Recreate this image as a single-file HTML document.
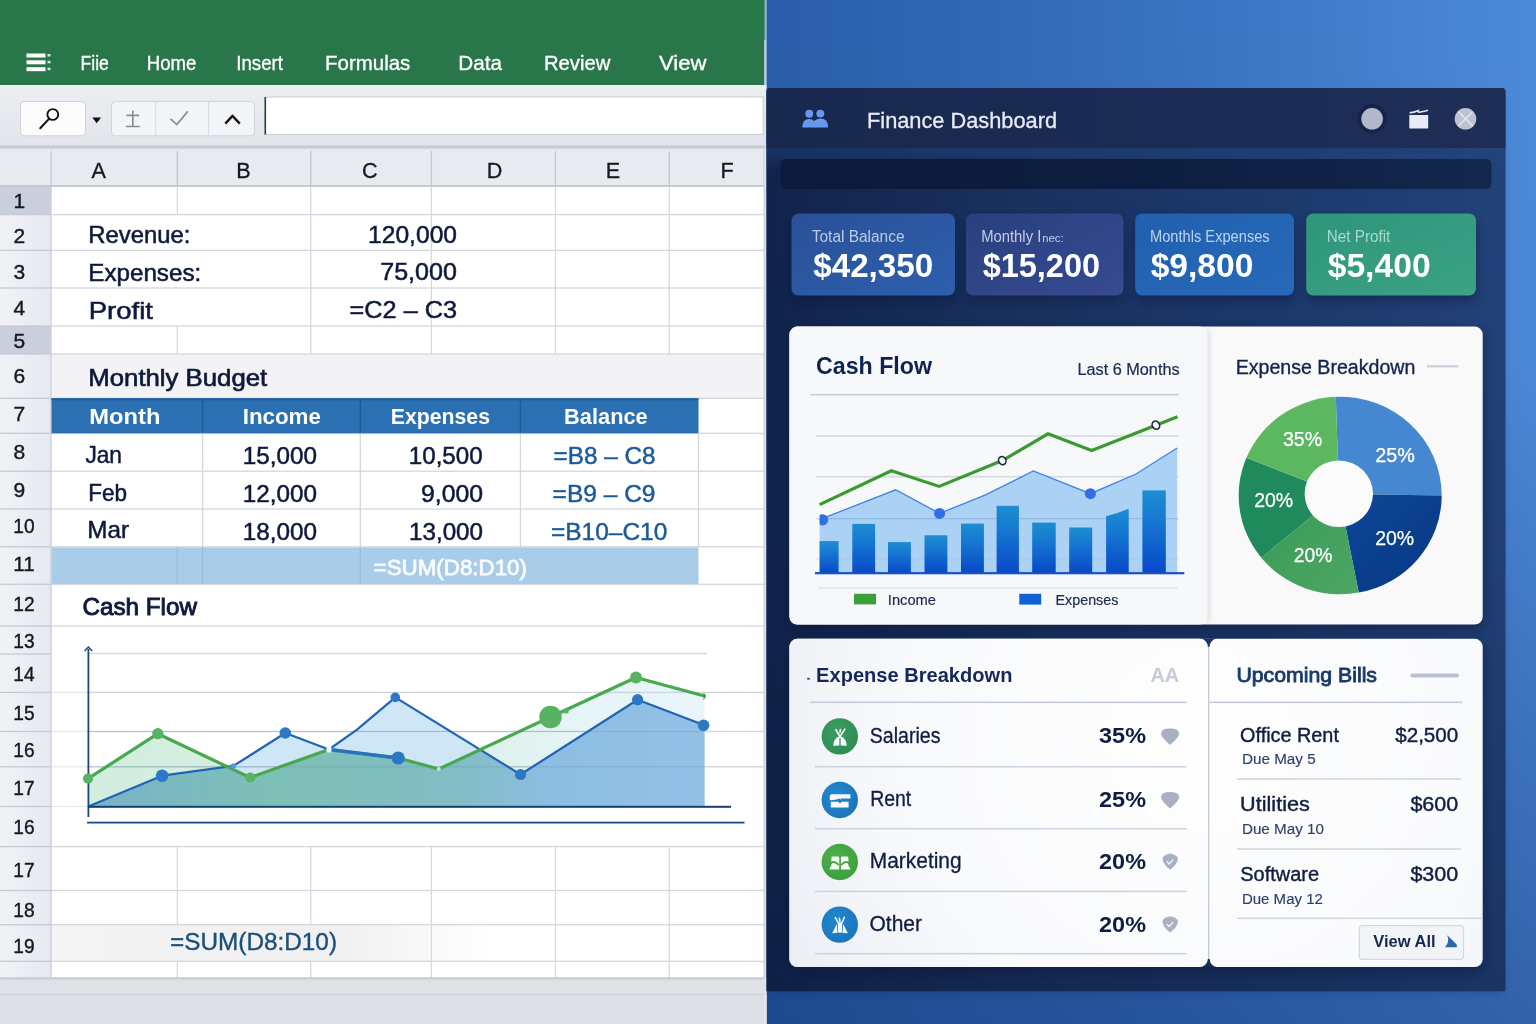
<!DOCTYPE html>
<html lang="en"><head><meta charset="utf-8"><title>Finance Dashboard</title>
<style>
html,body{margin:0;padding:0;background:#2a5da6;}
body{width:1536px;height:1024px;overflow:hidden;font-family:"Liberation Sans", Arial, sans-serif;}
svg{display:block;font-family:"Liberation Sans", Arial, sans-serif;}
text{white-space:pre;}
</style></head><body>
<svg width="1536" height="1024" viewBox="0 0 1536 1024">
<defs>
<linearGradient id="bgR" x1="0" y1="0" x2="1" y2="0"><stop offset="0" stop-color="#295da9"/><stop offset="0.55" stop-color="#3973c1"/><stop offset="1" stop-color="#4c8ad8"/></linearGradient>
<linearGradient id="bgV" x1="0" y1="0" x2="0" y2="1"><stop offset="0" stop-color="#0e2d6b" stop-opacity="0"/><stop offset="0.35" stop-color="#0e2d6b" stop-opacity="0.02"/><stop offset="1" stop-color="#0e2d6b" stop-opacity="0.42"/></linearGradient>
<linearGradient id="win" x1="0" y1="0" x2="1" y2="0"><stop offset="0" stop-color="#11244c"/><stop offset="0.35" stop-color="#19325f"/><stop offset="0.7" stop-color="#1d3a6e"/><stop offset="1" stop-color="#23437b"/></linearGradient>
<linearGradient id="winV" x1="0" y1="0" x2="0" y2="1"><stop offset="0" stop-color="#0a1838" stop-opacity="0"/><stop offset="0.5" stop-color="#0a1838" stop-opacity="0.08"/><stop offset="1" stop-color="#0a1838" stop-opacity="0.35"/></linearGradient>
<radialGradient id="cardR" gradientUnits="userSpaceOnUse" cx="1200" cy="740" r="520"><stop offset="0" stop-color="#fefefe"/><stop offset="0.55" stop-color="#f9fafc"/><stop offset="0.8" stop-color="#f0f2f7"/><stop offset="1" stop-color="#e4e8f1"/></radialGradient>
<linearGradient id="c1" x1="0" y1="0" x2="1" y2="1"><stop offset="0" stop-color="#2a5198"/><stop offset="1" stop-color="#2d5fad"/></linearGradient>
<linearGradient id="c2" x1="0" y1="0" x2="1" y2="1"><stop offset="0" stop-color="#29407f"/><stop offset="1" stop-color="#364b90"/></linearGradient>
<linearGradient id="c3" x1="0" y1="0" x2="1" y2="1"><stop offset="0" stop-color="#2060ae"/><stop offset="1" stop-color="#2869ba"/></linearGradient>
<linearGradient id="c4" x1="0" y1="0" x2="1" y2="1"><stop offset="0" stop-color="#2f957b"/><stop offset="1" stop-color="#3ba384"/></linearGradient>
<linearGradient id="bar" x1="0" y1="0" x2="0" y2="1"><stop offset="0" stop-color="#1d8dd0"/><stop offset="0.35" stop-color="#1679d2"/><stop offset="1" stop-color="#0848c8"/></linearGradient>
<linearGradient id="minfill" x1="88" y1="0" x2="705" y2="0" gradientUnits="userSpaceOnUse"><stop offset="0" stop-color="#79b3c9"/><stop offset="0.3" stop-color="#7dc0b6"/><stop offset="0.6" stop-color="#82bdc4"/><stop offset="0.75" stop-color="#8dbde2"/><stop offset="1" stop-color="#93c0e6"/></linearGradient>
<linearGradient id="whiteV" x1="0" y1="0" x2="1" y2="1"><stop offset="0" stop-color="#fbfbfc"/><stop offset="1" stop-color="#f3f4f8"/></linearGradient>
<linearGradient id="rowhdr" x1="0" y1="0" x2="1" y2="0"><stop offset="0" stop-color="#f0f2f6"/><stop offset="1" stop-color="#e6e9f0"/></linearGradient>
<radialGradient id="ig" cx="0.4" cy="0.35" r="0.8"><stop offset="0" stop-color="#399c60"/><stop offset="1" stop-color="#2b8c53"/></radialGradient>
<radialGradient id="ib" cx="0.4" cy="0.35" r="0.8"><stop offset="0" stop-color="#2288cf"/><stop offset="1" stop-color="#1a72b8"/></radialGradient>
<radialGradient id="ig2" cx="0.4" cy="0.35" r="0.8"><stop offset="0" stop-color="#4db049"/><stop offset="1" stop-color="#3a9c3c"/></radialGradient>
<filter id="sh" x="-20%" y="-20%" width="140%" height="150%"><feGaussianBlur stdDeviation="5"/></filter>
<filter id="sh2" x="-20%" y="-20%" width="140%" height="150%"><feGaussianBlur stdDeviation="2"/></filter>
</defs>
<rect x="0" y="0" width="1536" height="1024" fill="#ffffff" />
<rect x="765" y="0" width="771" height="1024" fill="url(#bgR)" />
<rect x="765" y="0" width="771" height="1024" fill="url(#bgV)" />
<rect x="0" y="0" width="764.6" height="85" fill="#29764b" />
<rect x="764.4" y="0" width="2.2" height="88" fill="#bccde6" />
<rect x="0" y="0" width="765.5" height="40" fill="#2a7a4d" opacity="0.6"/>
<rect x="26.5" y="53.5" width="19.0" height="4.0" fill="#ffffff" />
<rect x="47.5" y="54.0" width="3.0" height="2.5" fill="#cfe6d8" />
<rect x="26.5" y="60.3" width="19.0" height="4.0" fill="#ffffff" />
<rect x="47.5" y="60.8" width="3.0" height="2.5" fill="#cfe6d8" />
<rect x="26.5" y="67.2" width="19.0" height="4.0" fill="#ffffff" />
<rect x="47.5" y="67.7" width="3.0" height="2.5" fill="#cfe6d8" />
<text x="80.5" y="70" font-size="21" font-weight="normal" fill="#ffffff" textLength="28.3" lengthAdjust="spacingAndGlyphs" stroke="#ffffff" stroke-width="0.35">Fiie</text>
<text x="146.8" y="70" font-size="21" font-weight="normal" fill="#ffffff" textLength="49.5" lengthAdjust="spacingAndGlyphs" stroke="#ffffff" stroke-width="0.35">Home</text>
<text x="236.3" y="70" font-size="21" font-weight="normal" fill="#ffffff" textLength="46.7" lengthAdjust="spacingAndGlyphs" stroke="#ffffff" stroke-width="0.35">Insert</text>
<text x="325" y="70" font-size="21" font-weight="normal" fill="#ffffff" textLength="85.3" lengthAdjust="spacingAndGlyphs" stroke="#ffffff" stroke-width="0.35">Formulas</text>
<text x="458.3" y="70" font-size="21" font-weight="normal" fill="#ffffff" textLength="43.7" lengthAdjust="spacingAndGlyphs" stroke="#ffffff" stroke-width="0.35">Data</text>
<text x="544" y="70" font-size="21" font-weight="normal" fill="#ffffff" textLength="66.3" lengthAdjust="spacingAndGlyphs" stroke="#ffffff" stroke-width="0.35">Review</text>
<text x="659" y="70" font-size="21" font-weight="normal" fill="#ffffff" textLength="47.5" lengthAdjust="spacingAndGlyphs" stroke="#ffffff" stroke-width="0.35">View</text>
<defs><linearGradient id="tbar" x1="0" y1="0" x2="0" y2="1"><stop offset="0" stop-color="#eceef2"/><stop offset="1" stop-color="#e1e4ea"/></linearGradient></defs>
<rect x="0" y="85" width="766.5" height="65" fill="url(#tbar)" />
<rect x="20.5" y="101.5" width="65.0" height="34.3" fill="#fcfcfd" rx="4" stroke="#cfd3da" stroke-width="1"/>
<circle cx="52.8" cy="114.5" r="5.4" fill="none" stroke="#111" stroke-width="1.9"/><path d="M49.2 118.6 L40.2 128.2" stroke="#111" stroke-width="2" stroke-linecap="round"/>
<path d="M92.3 117.6 h8.8 l-4.4 5.6z" fill="#111"/>
<rect x="111.5" y="101.5" width="143.0" height="34.3" fill="#f3f4f7" rx="4" stroke="#cfd3da" stroke-width="1"/>
<rect x="155.2" y="102" width="1" height="33.5" fill="#d5d8de"/>
<rect x="208.1" y="102" width="1" height="33.5" fill="#d5d8de"/>
<path d="M132.8 110.4 V126.3 M126.4 115.4 H139.2 M125.8 126.5 H139.8" stroke="#8a8d92" stroke-width="1.7" fill="none"/>
<path d="M170.5 118.8 L176.8 124.6 L187.8 111.4" stroke="#8a8d92" stroke-width="1.7" fill="none"/>
<path d="M225.3 123.6 L232.5 115.9 L239.8 123.6" stroke="#111" stroke-width="2.3" fill="none" stroke-linejoin="miter"/>
<rect x="265" y="97" width="498.2" height="37.5" fill="#ffffff" stroke="#c6cad1" stroke-width="1"/>
<rect x="264.5" y="97" width="1.6" height="37.5" fill="#1f4a35"/>
<rect x="0" y="145.5" width="765" height="3.0" fill="#c5c9d1" />
<rect x="0" y="148.5" width="765" height="2.0" fill="#dfe2e8" />
<rect x="0" y="150.5" width="765" height="35.5" fill="#e7eaef" />
<rect x="0" y="185" width="765" height="2" fill="#c3c8d1" />
<rect x="0" y="187" width="51" height="791" fill="url(#rowhdr)" />
<rect x="0" y="187" width="51" height="27.5" fill="#c9cfdc" />
<rect x="0" y="326" width="51" height="28" fill="#c9cfdc" />
<rect x="51.5" y="354" width="712.5" height="44.3" fill="#f3f3f5" />
<defs><linearGradient id="r19" x1="0" y1="0" x2="1" y2="0"><stop offset="0" stop-color="#f4f4f5"/><stop offset="0.4" stop-color="#f0f0f1"/><stop offset="0.62" stop-color="#ffffff"/><stop offset="1" stop-color="#ffffff"/></linearGradient><linearGradient id="gfill" x1="88" y1="0" x2="705" y2="0" gradientUnits="userSpaceOnUse"><stop offset="0" stop-color="#5fbf8a" stop-opacity="0.28"/><stop offset="0.55" stop-color="#6cc49a" stop-opacity="0.26"/><stop offset="0.8" stop-color="#9ad4e0" stop-opacity="0.25"/><stop offset="1" stop-color="#a9d8ee" stop-opacity="0.25"/></linearGradient></defs>
<rect x="51.5" y="924.7" width="712.5" height="36.6" fill="url(#r19)" />
<rect x="50.35" y="151" width="1.3" height="35" fill="#c3c8d1"/>
<rect x="176.65" y="151" width="1.3" height="35" fill="#c3c8d1"/>
<rect x="310.15" y="151" width="1.3" height="35" fill="#c3c8d1"/>
<rect x="430.75" y="151" width="1.3" height="35" fill="#c3c8d1"/>
<rect x="554.75" y="151" width="1.3" height="35" fill="#c3c8d1"/>
<rect x="668.65" y="151" width="1.3" height="35" fill="#c3c8d1"/>
<rect x="763.35" y="151" width="1.3" height="35" fill="#c3c8d1"/>
<rect x="176.7" y="187" width="1.2" height="27.6" fill="#d3d7df"/>
<rect x="310.2" y="187" width="1.2" height="27.6" fill="#d3d7df"/>
<rect x="430.8" y="187" width="1.2" height="27.6" fill="#d3d7df"/>
<rect x="554.8" y="187" width="1.2" height="27.6" fill="#d3d7df"/>
<rect x="668.7" y="187" width="1.2" height="27.6" fill="#d3d7df"/>
<rect x="310.2" y="214.6" width="1.2" height="111.4" fill="#d3d7df"/>
<rect x="430.8" y="214.6" width="1.2" height="111.4" fill="#d3d7df"/>
<rect x="554.8" y="214.6" width="1.2" height="111.4" fill="#d3d7df"/>
<rect x="668.7" y="214.6" width="1.2" height="111.4" fill="#d3d7df"/>
<rect x="176.7" y="326" width="1.2" height="28" fill="#d3d7df"/>
<rect x="310.2" y="326" width="1.2" height="28" fill="#d3d7df"/>
<rect x="430.8" y="326" width="1.2" height="28" fill="#d3d7df"/>
<rect x="554.8" y="326" width="1.2" height="28" fill="#d3d7df"/>
<rect x="668.7" y="326" width="1.2" height="28" fill="#d3d7df"/>
<rect x="176.7" y="846.6" width="1.2" height="78.1" fill="#d3d7df"/>
<rect x="310.2" y="846.6" width="1.2" height="78.1" fill="#d3d7df"/>
<rect x="430.8" y="846.6" width="1.2" height="78.1" fill="#d3d7df"/>
<rect x="554.8" y="846.6" width="1.2" height="78.1" fill="#d3d7df"/>
<rect x="668.7" y="846.6" width="1.2" height="78.1" fill="#d3d7df"/>
<rect x="430.8" y="924.7" width="1.2" height="36.6" fill="#d3d7df"/>
<rect x="554.8" y="924.7" width="1.2" height="36.6" fill="#d3d7df"/>
<rect x="668.7" y="924.7" width="1.2" height="36.6" fill="#d3d7df"/>
<rect x="176.7" y="961.3" width="1.2" height="16.7" fill="#d3d7df"/>
<rect x="310.2" y="961.3" width="1.2" height="16.7" fill="#d3d7df"/>
<rect x="430.8" y="961.3" width="1.2" height="16.7" fill="#d3d7df"/>
<rect x="554.8" y="961.3" width="1.2" height="16.7" fill="#d3d7df"/>
<rect x="668.7" y="961.3" width="1.2" height="16.7" fill="#d3d7df"/>
<rect x="50.35" y="187" width="1.3" height="791" fill="#c9cdd6"/>
<rect x="0" y="213.95" width="51" height="1.3" fill="#c6cad3"/>
<rect x="51" y="213.95" width="713" height="1.3" fill="#d3d7df"/>
<rect x="0" y="249.65" width="51" height="1.3" fill="#c6cad3"/>
<rect x="51" y="249.65" width="713" height="1.3" fill="#d3d7df"/>
<rect x="0" y="287.35" width="51" height="1.3" fill="#c6cad3"/>
<rect x="51" y="287.35" width="713" height="1.3" fill="#d3d7df"/>
<rect x="0" y="325.35" width="51" height="1.3" fill="#c6cad3"/>
<rect x="51" y="325.35" width="713" height="1.3" fill="#d3d7df"/>
<rect x="0" y="353.35" width="51" height="1.3" fill="#c6cad3"/>
<rect x="51" y="353.35" width="713" height="1.3" fill="#d3d7df"/>
<rect x="0" y="397.65" width="51" height="1.3" fill="#c6cad3"/>
<rect x="51" y="397.65" width="713" height="1.3" fill="#d3d7df"/>
<rect x="0" y="432.65" width="51" height="1.3" fill="#c6cad3"/>
<rect x="51" y="432.65" width="713" height="1.3" fill="#d3d7df"/>
<rect x="0" y="470.55" width="51" height="1.3" fill="#c6cad3"/>
<rect x="51" y="470.55" width="713" height="1.3" fill="#d3d7df"/>
<rect x="0" y="508.35" width="51" height="1.3" fill="#c6cad3"/>
<rect x="51" y="508.35" width="713" height="1.3" fill="#d3d7df"/>
<rect x="0" y="546.15" width="51" height="1.3" fill="#c6cad3"/>
<rect x="51" y="546.15" width="713" height="1.3" fill="#d3d7df"/>
<rect x="0" y="583.65" width="51" height="1.3" fill="#c6cad3"/>
<rect x="51" y="583.65" width="713" height="1.3" fill="#d3d7df"/>
<rect x="0" y="625.35" width="51" height="1.3" fill="#c6cad3"/>
<rect x="51" y="625.35" width="713" height="1.3" fill="#d3d7df"/>
<rect x="0" y="653.35" width="51" height="1.3" fill="#c6cad3"/>
<rect x="51" y="653.35" width="713" height="1.3" fill="#d3d7df"/>
<rect x="0" y="691.75" width="51" height="1.3" fill="#c6cad3"/>
<rect x="51" y="691.75" width="713" height="1.3" fill="#d3d7df"/>
<rect x="0" y="730.85" width="51" height="1.3" fill="#c6cad3"/>
<rect x="51" y="730.85" width="713" height="1.3" fill="#d3d7df"/>
<rect x="0" y="766.15" width="51" height="1.3" fill="#c6cad3"/>
<rect x="51" y="766.15" width="713" height="1.3" fill="#d3d7df"/>
<rect x="0" y="805.85" width="51" height="1.3" fill="#c6cad3"/>
<rect x="51" y="805.85" width="713" height="1.3" fill="#d3d7df"/>
<rect x="0" y="845.95" width="51" height="1.3" fill="#c6cad3"/>
<rect x="51" y="845.95" width="713" height="1.3" fill="#d3d7df"/>
<rect x="0" y="889.85" width="51" height="1.3" fill="#c6cad3"/>
<rect x="51" y="889.85" width="713" height="1.3" fill="#d3d7df"/>
<rect x="0" y="924.05" width="51" height="1.3" fill="#c6cad3"/>
<rect x="51" y="924.05" width="713" height="1.3" fill="#d3d7df"/>
<rect x="0" y="960.65" width="51" height="1.3" fill="#c6cad3"/>
<rect x="51" y="960.65" width="713" height="1.3" fill="#d3d7df"/>
<text x="13.6" y="208.3" font-size="21" font-weight="normal" fill="#15181f" stroke="#15181f" stroke-width="0.4">1</text>
<text x="13.6" y="242.5" font-size="21" font-weight="normal" fill="#15181f" stroke="#15181f" stroke-width="0.4">2</text>
<text x="13.6" y="278.6" font-size="21" font-weight="normal" fill="#15181f" stroke="#15181f" stroke-width="0.4">3</text>
<text x="13.6" y="314.8" font-size="21" font-weight="normal" fill="#15181f" stroke="#15181f" stroke-width="0.4">4</text>
<text x="13.6" y="347.6" font-size="21" font-weight="normal" fill="#15181f" stroke="#15181f" stroke-width="0.4">5</text>
<text x="13.6" y="382.6" font-size="21" font-weight="normal" fill="#15181f" stroke="#15181f" stroke-width="0.4">6</text>
<text x="13.6" y="421" font-size="21" font-weight="normal" fill="#15181f" stroke="#15181f" stroke-width="0.4">7</text>
<text x="13.6" y="458.8" font-size="21" font-weight="normal" fill="#15181f" stroke="#15181f" stroke-width="0.4">8</text>
<text x="13.6" y="497.2" font-size="21" font-weight="normal" fill="#15181f" stroke="#15181f" stroke-width="0.4">9</text>
<text x="13.3" y="533.4" font-size="21" font-weight="normal" fill="#15181f" textLength="21.3" lengthAdjust="spacingAndGlyphs" stroke="#15181f" stroke-width="0.4">10</text>
<text x="13.3" y="571.4" font-size="21" font-weight="normal" fill="#15181f" textLength="21.3" lengthAdjust="spacingAndGlyphs" stroke="#15181f" stroke-width="0.4">11</text>
<text x="13.3" y="610.5" font-size="21" font-weight="normal" fill="#15181f" textLength="21.3" lengthAdjust="spacingAndGlyphs" stroke="#15181f" stroke-width="0.4">12</text>
<text x="13.3" y="648.2" font-size="21" font-weight="normal" fill="#15181f" textLength="21.3" lengthAdjust="spacingAndGlyphs" stroke="#15181f" stroke-width="0.4">13</text>
<text x="13.3" y="681.4" font-size="21" font-weight="normal" fill="#15181f" textLength="21.3" lengthAdjust="spacingAndGlyphs" stroke="#15181f" stroke-width="0.4">14</text>
<text x="13.3" y="719.5" font-size="21" font-weight="normal" fill="#15181f" textLength="21.3" lengthAdjust="spacingAndGlyphs" stroke="#15181f" stroke-width="0.4">15</text>
<text x="13.3" y="757.1" font-size="21" font-weight="normal" fill="#15181f" textLength="21.3" lengthAdjust="spacingAndGlyphs" stroke="#15181f" stroke-width="0.4">16</text>
<text x="13.3" y="794.8" font-size="21" font-weight="normal" fill="#15181f" textLength="21.3" lengthAdjust="spacingAndGlyphs" stroke="#15181f" stroke-width="0.4">17</text>
<text x="13.3" y="833.9" font-size="21" font-weight="normal" fill="#15181f" textLength="21.3" lengthAdjust="spacingAndGlyphs" stroke="#15181f" stroke-width="0.4">16</text>
<text x="13.3" y="876.8" font-size="21" font-weight="normal" fill="#15181f" textLength="21.3" lengthAdjust="spacingAndGlyphs" stroke="#15181f" stroke-width="0.4">17</text>
<text x="13.3" y="916.5" font-size="21" font-weight="normal" fill="#15181f" textLength="21.3" lengthAdjust="spacingAndGlyphs" stroke="#15181f" stroke-width="0.4">18</text>
<text x="13.3" y="952.6" font-size="21" font-weight="normal" fill="#15181f" textLength="21.3" lengthAdjust="spacingAndGlyphs" stroke="#15181f" stroke-width="0.4">19</text>
<text x="98.6" y="178" font-size="21.6" font-weight="normal" fill="#15181f" text-anchor="middle" stroke="#15181f" stroke-width="0.3">A</text>
<text x="243.5" y="178" font-size="21.6" font-weight="normal" fill="#15181f" text-anchor="middle" stroke="#15181f" stroke-width="0.3">B</text>
<text x="369.7" y="178" font-size="21.6" font-weight="normal" fill="#15181f" text-anchor="middle" stroke="#15181f" stroke-width="0.3">C</text>
<text x="494.5" y="178" font-size="21.6" font-weight="normal" fill="#15181f" text-anchor="middle" stroke="#15181f" stroke-width="0.3">D</text>
<text x="612.9" y="178" font-size="21.6" font-weight="normal" fill="#15181f" text-anchor="middle" stroke="#15181f" stroke-width="0.3">E</text>
<text x="727" y="178" font-size="21.6" font-weight="normal" fill="#15181f" text-anchor="middle" stroke="#15181f" stroke-width="0.3">F</text>
<text x="88.3" y="242.9" font-size="24.5" font-weight="normal" fill="#0e1a3c" textLength="102.1" lengthAdjust="spacingAndGlyphs" stroke="#0e1a3c" stroke-width="0.55">Revenue:</text>
<text x="88.3" y="281.2" font-size="24.5" font-weight="normal" fill="#0e1a3c" textLength="112.9" lengthAdjust="spacingAndGlyphs" stroke="#0e1a3c" stroke-width="0.55">Expenses:</text>
<text x="88.7" y="318.7" font-size="24.5" font-weight="normal" fill="#0e1a3c" textLength="64.2" lengthAdjust="spacingAndGlyphs" stroke="#0e1a3c" stroke-width="0.55">Profit</text>
<text x="368.1" y="242.6" font-size="23.4" font-weight="normal" fill="#0e1a3c" textLength="88.9" lengthAdjust="spacingAndGlyphs" stroke="#0e1a3c" stroke-width="0.5">120,000</text>
<text x="380.2" y="280.3" font-size="23.4" font-weight="normal" fill="#0e1a3c" textLength="76.8" lengthAdjust="spacingAndGlyphs" stroke="#0e1a3c" stroke-width="0.5">75,000</text>
<text x="349.6" y="318.2" font-size="23.4" font-weight="normal" fill="#0e1a3c" textLength="107.4" lengthAdjust="spacingAndGlyphs" stroke="#0e1a3c" stroke-width="0.5">=C2 – C3</text>
<text x="88.3" y="385.9" font-size="23.4" font-weight="normal" fill="#0e1a3c" textLength="178.9" lengthAdjust="spacingAndGlyphs" stroke="#0e1a3c" stroke-width="0.65">Monthly Budget</text>
<rect x="51.5" y="398.3" width="647.0" height="35.0" fill="#2a70b2" />
<rect x="51.5" y="398.3" width="647" height="2" fill="#1d5d9c"/>
<rect x="201.95" y="398.3" width="1.3" height="35.0" fill="#1c5b98"/>
<rect x="359.65" y="398.3" width="1.3" height="35.0" fill="#1c5b98"/>
<rect x="519.75" y="398.3" width="1.3" height="35.0" fill="#1c5b98"/>
<rect x="201.95" y="433.3" width="1.3" height="113.5" fill="#d3d7df"/>
<rect x="359.65" y="433.3" width="1.3" height="113.5" fill="#d3d7df"/>
<rect x="519.75" y="433.3" width="1.3" height="113.5" fill="#d3d7df"/>
<rect x="697.85" y="433.3" width="1.3" height="113.5" fill="#d3d7df"/>
<text x="89.3" y="424.4" font-size="22.3" font-weight="bold" fill="#ffffff" textLength="71.2" lengthAdjust="spacingAndGlyphs">Month</text>
<text x="242.7" y="424.4" font-size="22.3" font-weight="bold" fill="#ffffff" textLength="78.2" lengthAdjust="spacingAndGlyphs">Income</text>
<text x="390.8" y="424.4" font-size="22.3" font-weight="bold" fill="#ffffff" textLength="99.2" lengthAdjust="spacingAndGlyphs">Expenses</text>
<text x="564.1" y="424.4" font-size="22.3" font-weight="bold" fill="#ffffff" textLength="83.6" lengthAdjust="spacingAndGlyphs">Balance</text>
<text x="85.4" y="463" font-size="23.6" font-weight="normal" fill="#0e1a3c" textLength="36.6" lengthAdjust="spacingAndGlyphs" stroke="#0e1a3c" stroke-width="0.5">Jan</text>
<text x="88.3" y="500.6" font-size="23.6" font-weight="normal" fill="#0e1a3c" textLength="38.7" lengthAdjust="spacingAndGlyphs" stroke="#0e1a3c" stroke-width="0.5">Feb</text>
<text x="87.3" y="538" font-size="23.6" font-weight="normal" fill="#0e1a3c" textLength="41.7" lengthAdjust="spacingAndGlyphs" stroke="#0e1a3c" stroke-width="0.5">Mar</text>
<text x="242.7" y="464.4" font-size="23.6" font-weight="normal" fill="#0e1a3c" textLength="74.3" lengthAdjust="spacingAndGlyphs" stroke="#0e1a3c" stroke-width="0.5">15,000</text>
<text x="242.7" y="502" font-size="23.6" font-weight="normal" fill="#0e1a3c" textLength="74.3" lengthAdjust="spacingAndGlyphs" stroke="#0e1a3c" stroke-width="0.5">12,000</text>
<text x="242.7" y="539.8" font-size="23.6" font-weight="normal" fill="#0e1a3c" textLength="74.3" lengthAdjust="spacingAndGlyphs" stroke="#0e1a3c" stroke-width="0.5">18,000</text>
<text x="408.8" y="464.4" font-size="23.6" font-weight="normal" fill="#0e1a3c" textLength="73.8" lengthAdjust="spacingAndGlyphs" stroke="#0e1a3c" stroke-width="0.5">10,500</text>
<text x="421" y="502" font-size="23.6" font-weight="normal" fill="#0e1a3c" textLength="62" lengthAdjust="spacingAndGlyphs" stroke="#0e1a3c" stroke-width="0.5">9,000</text>
<text x="409" y="539.8" font-size="23.6" font-weight="normal" fill="#0e1a3c" textLength="74" lengthAdjust="spacingAndGlyphs" stroke="#0e1a3c" stroke-width="0.5">13,000</text>
<text x="553.6" y="464.2" font-size="23.4" font-weight="normal" fill="#1c5a9a" textLength="101.9" lengthAdjust="spacingAndGlyphs" stroke="#1c5a9a" stroke-width="0.45">=B8 – C8</text>
<text x="552.6" y="502" font-size="23.4" font-weight="normal" fill="#1c5a9a" textLength="102.9" lengthAdjust="spacingAndGlyphs" stroke="#1c5a9a" stroke-width="0.45">=B9 – C9</text>
<text x="551" y="540" font-size="23.4" font-weight="normal" fill="#1c5a9a" textLength="116.3" lengthAdjust="spacingAndGlyphs" stroke="#1c5a9a" stroke-width="0.45">=B10–C10</text>
<rect x="51.5" y="547.4" width="647.0" height="36.6" fill="#a9cde9" />
<rect x="176.7" y="547.4" width="1.2" height="36.6" fill="#97bcd9"/>
<rect x="202.0" y="547.4" width="1.2" height="36.6" fill="#97bcd9"/>
<rect x="359.7" y="547.4" width="1.2" height="36.6" fill="#97bcd9"/>
<text x="373.6" y="575" font-size="22.3" font-weight="normal" fill="#f8fbfe" textLength="153.4" lengthAdjust="spacingAndGlyphs" stroke="#f8fbfe" stroke-width="0.8">=SUM(D8:D10)</text>
<text x="82.4" y="615" font-size="24.5" font-weight="normal" fill="#0e1a3c" textLength="114.5" lengthAdjust="spacingAndGlyphs" stroke="#0e1a3c" stroke-width="0.95">Cash Flow</text>
<text x="170" y="950" font-size="23" font-weight="normal" fill="#1b4f7c" textLength="167" lengthAdjust="spacingAndGlyphs" stroke="#1b4f7c" stroke-width="0.35">=SUM(D8:D10)</text>
<rect x="52" y="627" width="711.5" height="218.8" fill="#ffffff" />
<rect x="88" y="652.8" width="619" height="1.4" fill="#d2d5de"/>
<rect x="88" y="691.7" width="675.5" height="1.4" fill="#d2d5de"/>
<rect x="88" y="730.8" width="675.5" height="1.4" fill="#d2d5de"/>
<rect x="88" y="766.1" width="675.5" height="1.4" fill="#d2d5de"/>
<rect x="52" y="691.8" width="36" height="1.2" fill="#e3e6ec"/>
<rect x="52" y="730.9" width="36" height="1.2" fill="#e3e6ec"/>
<rect x="52" y="766.2" width="36" height="1.2" fill="#e3e6ec"/>
<rect x="52" y="805.9" width="36" height="1.2" fill="#e3e6ec"/>
<polygon points="88,778.6 157.8,733.7 250,777.5 329,749.5 398.2,758 438.8,769 550.5,717 636,677.5 704.5,696 704.5,806.5 88,806.5" fill="url(#gfill)"/>
<polygon points="88.3,806.5 162.1,775.7 233.4,765.9 285.3,733 328.9,749.5 357,729.6 395.3,697.4 520.5,774.5 637.6,699.7 704.5,725.3 704.5,806.5 88,806.5" fill="#7ab9e8" opacity="0.36"/>
<polygon points="88.3,806.5 88.5,806.4 89.0,806.2 89.5,806.0 90.0,805.8 90.5,805.6 91.0,805.4 91.5,805.2 92.0,805.0 92.5,804.7 93.0,804.5 93.5,804.3 94.0,804.1 94.5,803.9 95.0,803.7 95.5,803.5 96.0,803.3 96.5,803.1 97.0,802.9 97.5,802.7 98.0,802.5 98.5,802.2 99.0,802.0 99.5,801.8 100.0,801.6 100.5,801.4 101.0,801.2 101.5,801.0 102.0,800.8 102.5,800.6 103.0,800.4 103.5,800.2 104.0,799.9 104.5,799.7 105.0,799.5 105.5,799.3 106.0,799.1 106.5,798.9 107.0,798.7 107.5,798.5 108.0,798.3 108.5,798.1 109.0,797.9 109.5,797.7 110.0,797.4 110.5,797.2 111.0,797.0 111.5,796.8 112.0,796.6 112.5,796.4 113.0,796.2 113.5,796.0 114.0,795.8 114.5,795.6 115.0,795.4 115.5,795.1 116.0,794.9 116.5,794.7 117.0,794.5 117.5,794.3 118.0,794.1 118.5,793.9 119.0,793.7 119.5,793.5 120.0,793.3 120.5,793.1 121.0,792.9 121.5,792.6 122.0,792.4 122.5,792.2 123.0,792.0 123.5,791.8 124.0,791.6 124.5,791.4 125.0,791.2 125.5,791.0 126.0,790.8 126.5,790.6 127.0,790.3 127.5,790.1 128.0,789.9 128.5,789.7 129.0,789.5 129.5,789.3 130.0,789.1 130.5,788.9 131.0,788.7 131.5,788.5 132.0,788.3 132.5,788.1 133.0,787.8 133.5,787.6 134.0,787.4 134.5,787.2 135.0,787.0 135.5,786.8 136.0,786.6 136.5,786.4 137.0,786.2 137.5,786.0 138.0,785.8 138.5,785.5 139.0,785.3 139.5,785.1 140.0,784.9 140.5,784.7 141.0,784.5 141.5,784.3 142.0,784.1 142.5,783.9 143.0,783.7 143.5,783.5 144.0,783.3 144.5,783.0 145.0,782.8 145.5,782.6 146.0,782.4 146.5,782.2 147.0,782.0 147.5,781.8 148.0,781.6 148.5,781.4 149.0,781.2 149.5,781.0 150.0,780.7 150.5,780.5 151.0,780.3 151.5,780.1 152.0,779.9 152.5,779.7 153.0,779.5 153.5,779.3 154.0,779.1 154.5,778.9 155.0,778.7 155.5,778.5 156.0,778.2 156.5,778.0 157.0,777.8 157.5,777.6 157.8,777.5 158.0,777.4 158.5,777.2 159.0,777.0 159.5,776.8 160.0,776.6 160.5,776.4 161.0,776.2 161.5,776.0 162.0,775.7 162.1,775.7 162.5,775.6 163.0,775.6 163.5,775.5 164.0,775.4 164.5,775.4 165.0,775.3 165.5,775.2 166.0,775.2 166.5,775.1 167.0,775.0 167.5,775.0 168.0,774.9 168.5,774.8 169.0,774.8 169.5,774.7 170.0,774.6 170.5,774.5 171.0,774.5 171.5,774.4 172.0,774.3 172.5,774.3 173.0,774.2 173.5,774.1 174.0,774.1 174.5,774.0 175.0,773.9 175.5,773.9 176.0,773.8 176.5,773.7 177.0,773.7 177.5,773.6 178.0,773.5 178.5,773.4 179.0,773.4 179.5,773.3 180.0,773.2 180.5,773.2 181.0,773.1 181.5,773.0 182.0,773.0 182.5,772.9 183.0,772.8 183.5,772.8 184.0,772.7 184.5,772.6 185.0,772.6 185.5,772.5 186.0,772.4 186.5,772.3 187.0,772.3 187.5,772.2 188.0,772.1 188.5,772.1 189.0,772.0 189.5,771.9 190.0,771.9 190.5,771.8 191.0,771.7 191.5,771.7 192.0,771.6 192.5,771.5 193.0,771.5 193.5,771.4 194.0,771.3 194.5,771.2 195.0,771.2 195.5,771.1 196.0,771.0 196.5,771.0 197.0,770.9 197.5,770.8 198.0,770.8 198.5,770.7 199.0,770.6 199.5,770.6 200.0,770.5 200.5,770.4 201.0,770.4 201.5,770.3 202.0,770.2 202.5,770.1 203.0,770.1 203.5,770.0 204.0,769.9 204.5,769.9 205.0,769.8 205.5,769.7 206.0,769.7 206.5,769.6 207.0,769.5 207.5,769.5 208.0,769.4 208.5,769.3 209.0,769.3 209.5,769.2 210.0,769.1 210.5,769.0 211.0,769.0 211.5,768.9 212.0,768.8 212.5,768.8 213.0,768.7 213.5,768.6 214.0,768.6 214.5,768.5 215.0,768.4 215.5,768.4 216.0,768.3 216.5,768.2 217.0,768.2 217.5,768.1 218.0,768.0 218.5,767.9 219.0,767.9 219.5,767.8 220.0,767.7 220.5,767.7 221.0,767.6 221.5,767.5 222.0,767.5 222.5,767.4 223.0,767.3 223.5,767.3 224.0,767.2 224.5,767.1 225.0,767.1 225.5,767.0 226.0,766.9 226.5,766.8 227.0,766.8 227.5,766.8 228.0,767.0 228.5,767.3 229.0,767.5 229.5,767.8 230.0,768.0 230.5,768.2 231.0,768.5 231.5,768.7 232.0,768.9 232.5,769.2 233.0,769.4 233.4,769.6 233.5,769.7 234.0,769.9 234.5,770.1 235.0,770.4 235.5,770.6 236.0,770.8 236.5,771.1 237.0,771.3 237.5,771.6 238.0,771.8 238.5,772.0 239.0,772.3 239.5,772.5 240.0,772.7 240.5,773.0 241.0,773.2 241.5,773.5 242.0,773.7 242.5,773.9 243.0,774.2 243.5,774.4 244.0,774.6 244.5,774.9 245.0,775.1 245.5,775.4 246.0,775.6 246.5,775.8 247.0,776.1 247.5,776.3 248.0,776.5 248.5,776.8 249.0,777.0 249.5,777.3 250,777.5 250.5,777.3 251.0,777.1 251.5,777.0 252.0,776.8 252.5,776.6 253.0,776.4 253.5,776.3 254.0,776.1 254.5,775.9 255.0,775.7 255.5,775.6 256.0,775.4 256.5,775.2 257.0,775.0 257.5,774.8 258.0,774.7 258.5,774.5 259.0,774.3 259.5,774.1 260.0,774.0 260.5,773.8 261.0,773.6 261.5,773.4 262.0,773.2 262.5,773.1 263.0,772.9 263.5,772.7 264.0,772.5 264.5,772.4 265.0,772.2 265.5,772.0 266.0,771.8 266.5,771.7 267.0,771.5 267.5,771.3 268.0,771.1 268.5,770.9 269.0,770.8 269.5,770.6 270.0,770.4 270.5,770.2 271.0,770.1 271.5,769.9 272.0,769.7 272.5,769.5 273.0,769.3 273.5,769.2 274.0,769.0 274.5,768.8 275.0,768.6 275.5,768.5 276.0,768.3 276.5,768.1 277.0,767.9 277.5,767.8 278.0,767.6 278.5,767.4 279.0,767.2 279.5,767.0 280.0,766.9 280.5,766.7 281.0,766.5 281.5,766.3 282.0,766.2 282.5,766.0 283.0,765.8 283.5,765.6 284.0,765.4 284.5,765.3 285.0,765.1 285.3,765.0 285.5,764.9 286.0,764.7 286.5,764.6 287.0,764.4 287.5,764.2 288.0,764.0 288.5,763.9 289.0,763.7 289.5,763.5 290.0,763.3 290.5,763.1 291.0,763.0 291.5,762.8 292.0,762.6 292.5,762.4 293.0,762.3 293.5,762.1 294.0,761.9 294.5,761.7 295.0,761.6 295.5,761.4 296.0,761.2 296.5,761.0 297.0,760.8 297.5,760.7 298.0,760.5 298.5,760.3 299.0,760.1 299.5,760.0 300.0,759.8 300.5,759.6 301.0,759.4 301.5,759.2 302.0,759.1 302.5,758.9 303.0,758.7 303.5,758.5 304.0,758.4 304.5,758.2 305.0,758.0 305.5,757.8 306.0,757.7 306.5,757.5 307.0,757.3 307.5,757.1 308.0,756.9 308.5,756.8 309.0,756.6 309.5,756.4 310.0,756.2 310.5,756.1 311.0,755.9 311.5,755.7 312.0,755.5 312.5,755.3 313.0,755.2 313.5,755.0 314.0,754.8 314.5,754.6 315.0,754.5 315.5,754.3 316.0,754.1 316.5,753.9 317.0,753.8 317.5,753.6 318.0,753.4 318.5,753.2 319.0,753.0 319.5,752.9 320.0,752.7 320.5,752.5 321.0,752.3 321.5,752.2 322.0,752.0 322.5,751.8 323.0,751.6 323.5,751.4 324.0,751.3 324.5,751.1 325.0,750.9 325.5,750.7 326.0,750.6 326.5,750.4 327.0,750.2 327.5,750.0 328.0,749.9 328.5,749.7 328.9,749.5 329,749.5 329.5,749.6 330.0,749.6 330.5,749.7 331.0,749.7 331.5,749.8 332.0,749.9 332.5,749.9 333.0,750.0 333.5,750.1 334.0,750.1 334.5,750.2 335.0,750.2 335.5,750.3 336.0,750.4 336.5,750.4 337.0,750.5 337.5,750.5 338.0,750.6 338.5,750.7 339.0,750.7 339.5,750.8 340.0,750.9 340.5,750.9 341.0,751.0 341.5,751.0 342.0,751.1 342.5,751.2 343.0,751.2 343.5,751.3 344.0,751.3 344.5,751.4 345.0,751.5 345.5,751.5 346.0,751.6 346.5,751.6 347.0,751.7 347.5,751.8 348.0,751.8 348.5,751.9 349.0,752.0 349.5,752.0 350.0,752.1 350.5,752.1 351.0,752.2 351.5,752.3 352.0,752.3 352.5,752.4 353.0,752.4 353.5,752.5 354.0,752.6 354.5,752.6 355.0,752.7 355.5,752.8 356.0,752.8 356.5,752.9 357,752.9 357.5,753.0 358.0,753.1 358.5,753.1 359.0,753.2 359.5,753.2 360.0,753.3 360.5,753.4 361.0,753.4 361.5,753.5 362.0,753.6 362.5,753.6 363.0,753.7 363.5,753.7 364.0,753.8 364.5,753.9 365.0,753.9 365.5,754.0 366.0,754.0 366.5,754.1 367.0,754.2 367.5,754.2 368.0,754.3 368.5,754.4 369.0,754.4 369.5,754.5 370.0,754.5 370.5,754.6 371.0,754.7 371.5,754.7 372.0,754.8 372.5,754.8 373.0,754.9 373.5,755.0 374.0,755.0 374.5,755.1 375.0,755.2 375.5,755.2 376.0,755.3 376.5,755.3 377.0,755.4 377.5,755.5 378.0,755.5 378.5,755.6 379.0,755.6 379.5,755.7 380.0,755.8 380.5,755.8 381.0,755.9 381.5,755.9 382.0,756.0 382.5,756.1 383.0,756.1 383.5,756.2 384.0,756.3 384.5,756.3 385.0,756.4 385.5,756.4 386.0,756.5 386.5,756.6 387.0,756.6 387.5,756.7 388.0,756.7 388.5,756.8 389.0,756.9 389.5,756.9 390.0,757.0 390.5,757.1 391.0,757.1 391.5,757.2 392.0,757.2 392.5,757.3 393.0,757.4 393.5,757.4 394.0,757.5 394.5,757.5 395.0,757.6 395.3,757.6 395.5,757.7 396.0,757.7 396.5,757.8 397.0,757.9 397.5,757.9 398.0,758.0 398.2,758.0 398.5,758.1 399.0,758.2 399.5,758.4 400.0,758.5 400.5,758.6 401.0,758.8 401.5,758.9 402.0,759.0 402.5,759.2 403.0,759.3 403.5,759.4 404.0,759.6 404.5,759.7 405.0,759.8 405.5,760.0 406.0,760.1 406.5,760.2 407.0,760.4 407.5,760.5 408.0,760.7 408.5,760.8 409.0,760.9 409.5,761.1 410.0,761.2 410.5,761.3 411.0,761.5 411.5,761.6 412.0,761.7 412.5,761.9 413.0,762.0 413.5,762.1 414.0,762.3 414.5,762.4 415.0,762.6 415.5,762.7 416.0,762.8 416.5,763.0 417.0,763.1 417.5,763.2 418.0,763.4 418.5,763.5 419.0,763.6 419.5,763.8 420.0,763.9 420.5,764.0 421.0,764.2 421.5,764.3 422.0,764.4 422.5,764.6 423.0,764.7 423.5,764.9 424.0,765.0 424.5,765.1 425.0,765.3 425.5,765.4 426.0,765.5 426.5,765.7 427.0,765.8 427.5,765.9 428.0,766.1 428.5,766.2 429.0,766.3 429.5,766.5 430.0,766.6 430.5,766.8 431.0,766.9 431.5,767.0 432.0,767.2 432.5,767.3 433.0,767.4 433.5,767.6 434.0,767.7 434.5,767.8 435.0,768.0 435.5,768.1 436.0,768.2 436.5,768.4 437.0,768.5 437.5,768.6 438.0,768.8 438.5,768.9 438.8,769.0 439.0,768.9 439.5,768.7 440.0,768.4 440.5,768.2 441.0,768.0 441.5,767.7 442.0,767.5 442.5,767.3 443.0,767.0 443.5,766.8 444.0,766.6 444.5,766.3 445.0,766.1 445.5,765.9 446.0,765.6 446.5,765.4 447.0,765.2 447.5,764.9 448.0,764.7 448.5,764.5 449.0,764.3 449.5,764.0 450.0,763.8 450.5,763.6 451.0,763.3 451.5,763.1 452.0,762.9 452.5,762.6 453.0,762.4 453.5,762.2 454.0,761.9 454.5,761.7 455.0,761.5 455.5,761.2 456.0,761.0 456.5,760.8 457.0,760.5 457.5,760.3 458.0,760.1 458.5,759.8 459.0,759.6 459.5,759.4 460.0,759.1 460.5,758.9 461.0,758.7 461.5,758.4 462.0,758.2 462.5,758.0 463.0,757.7 463.5,757.5 464.0,757.3 464.5,757.0 465.0,756.8 465.5,756.6 466.0,756.3 466.5,756.1 467.0,755.9 467.5,755.6 468.0,755.4 468.5,755.2 469.0,754.9 469.5,754.7 470.0,754.5 470.5,754.2 471.0,754.0 471.5,753.8 472.0,753.5 472.5,753.3 473.0,753.1 473.5,752.8 474.0,752.6 474.5,752.4 475.0,752.1 475.5,751.9 476.0,751.7 476.5,751.4 477.0,751.2 477.5,751.0 478.0,750.8 478.5,750.5 479.0,750.3 479.5,750.1 480.0,749.8 480.5,749.9 481.0,750.2 481.5,750.5 482.0,750.8 482.5,751.1 483.0,751.4 483.5,751.7 484.0,752.0 484.5,752.3 485.0,752.6 485.5,752.9 486.0,753.3 486.5,753.6 487.0,753.9 487.5,754.2 488.0,754.5 488.5,754.8 489.0,755.1 489.5,755.4 490.0,755.7 490.5,756.0 491.0,756.3 491.5,756.6 492.0,756.9 492.5,757.3 493.0,757.6 493.5,757.9 494.0,758.2 494.5,758.5 495.0,758.8 495.5,759.1 496.0,759.4 496.5,759.7 497.0,760.0 497.5,760.3 498.0,760.6 498.5,761.0 499.0,761.3 499.5,761.6 500.0,761.9 500.5,762.2 501.0,762.5 501.5,762.8 502.0,763.1 502.5,763.4 503.0,763.7 503.5,764.0 504.0,764.3 504.5,764.6 505.0,765.0 505.5,765.3 506.0,765.6 506.5,765.9 507.0,766.2 507.5,766.5 508.0,766.8 508.5,767.1 509.0,767.4 509.5,767.7 510.0,768.0 510.5,768.3 511.0,768.6 511.5,769.0 512.0,769.3 512.5,769.6 513.0,769.9 513.5,770.2 514.0,770.5 514.5,770.8 515.0,771.1 515.5,771.4 516.0,771.7 516.5,772.0 517.0,772.3 517.5,772.7 518.0,773.0 518.5,773.3 519.0,773.6 519.5,773.9 520.0,774.2 520.5,774.5 521.0,774.2 521.5,773.9 522.0,773.5 522.5,773.2 523.0,772.9 523.5,772.6 524.0,772.3 524.5,771.9 525.0,771.6 525.5,771.3 526.0,771.0 526.5,770.7 527.0,770.3 527.5,770.0 528.0,769.7 528.5,769.4 529.0,769.1 529.5,768.8 530.0,768.4 530.5,768.1 531.0,767.8 531.5,767.5 532.0,767.2 532.5,766.8 533.0,766.5 533.5,766.2 534.0,765.9 534.5,765.6 535.0,765.2 535.5,764.9 536.0,764.6 536.5,764.3 537.0,764.0 537.5,763.6 538.0,763.3 538.5,763.0 539.0,762.7 539.5,762.4 540.0,762.0 540.5,761.7 541.0,761.4 541.5,761.1 542.0,760.8 542.5,760.4 543.0,760.1 543.5,759.8 544.0,759.5 544.5,759.2 545.0,758.9 545.5,758.5 546.0,758.2 546.5,757.9 547.0,757.6 547.5,757.3 548.0,756.9 548.5,756.6 549.0,756.3 549.5,756.0 550.0,755.7 550.5,755.3 551.0,755.0 551.5,754.7 552.0,754.4 552.5,754.1 553.0,753.7 553.5,753.4 554.0,753.1 554.5,752.8 555.0,752.5 555.5,752.1 556.0,751.8 556.5,751.5 557.0,751.2 557.5,750.9 558.0,750.5 558.5,750.2 559.0,749.9 559.5,749.6 560.0,749.3 560.5,748.9 561.0,748.6 561.5,748.3 562.0,748.0 562.5,747.7 563.0,747.4 563.5,747.0 564.0,746.7 564.5,746.4 565.0,746.1 565.5,745.8 566.0,745.4 566.5,745.1 567.0,744.8 567.5,744.5 568.0,744.2 568.5,743.8 569.0,743.5 569.5,743.2 570.0,742.9 570.5,742.6 571.0,742.2 571.5,741.9 572.0,741.6 572.5,741.3 573.0,741.0 573.5,740.6 574.0,740.3 574.5,740.0 575.0,739.7 575.5,739.4 576.0,739.0 576.5,738.7 577.0,738.4 577.5,738.1 578.0,737.8 578.5,737.5 579.0,737.1 579.5,736.8 580.0,736.5 580.5,736.2 581.0,735.9 581.5,735.5 582.0,735.2 582.5,734.9 583.0,734.6 583.5,734.3 584.0,733.9 584.5,733.6 585.0,733.3 585.5,733.0 586.0,732.7 586.5,732.3 587.0,732.0 587.5,731.7 588.0,731.4 588.5,731.1 589.0,730.7 589.5,730.4 590.0,730.1 590.5,729.8 591.0,729.5 591.5,729.1 592.0,728.8 592.5,728.5 593.0,728.2 593.5,727.9 594.0,727.6 594.5,727.2 595.0,726.9 595.5,726.6 596.0,726.3 596.5,726.0 597.0,725.6 597.5,725.3 598.0,725.0 598.5,724.7 599.0,724.4 599.5,724.0 600.0,723.7 600.5,723.4 601.0,723.1 601.5,722.8 602.0,722.4 602.5,722.1 603.0,721.8 603.5,721.5 604.0,721.2 604.5,720.8 605.0,720.5 605.5,720.2 606.0,719.9 606.5,719.6 607.0,719.2 607.5,718.9 608.0,718.6 608.5,718.3 609.0,718.0 609.5,717.6 610.0,717.3 610.5,717.0 611.0,716.7 611.5,716.4 612.0,716.1 612.5,715.7 613.0,715.4 613.5,715.1 614.0,714.8 614.5,714.5 615.0,714.1 615.5,713.8 616.0,713.5 616.5,713.2 617.0,712.9 617.5,712.5 618.0,712.2 618.5,711.9 619.0,711.6 619.5,711.3 620.0,710.9 620.5,710.6 621.0,710.3 621.5,710.0 622.0,709.7 622.5,709.3 623.0,709.0 623.5,708.7 624.0,708.4 624.5,708.1 625.0,707.7 625.5,707.4 626.0,707.1 626.5,706.8 627.0,706.5 627.5,706.2 628.0,705.8 628.5,705.5 629.0,705.2 629.5,704.9 630.0,704.6 630.5,704.2 631.0,703.9 631.5,703.6 632.0,703.3 632.5,703.0 633.0,702.6 633.5,702.3 634.0,702.0 634.5,701.7 635.0,701.4 635.5,701.0 636,700.7 636.5,700.4 637.0,700.1 637.5,699.8 637.6,699.7 638.0,699.9 638.5,700.0 639.0,700.2 639.5,700.4 640.0,700.6 640.5,700.8 641.0,701.0 641.5,701.2 642.0,701.4 642.5,701.6 643.0,701.8 643.5,702.0 644.0,702.1 644.5,702.3 645.0,702.5 645.5,702.7 646.0,702.9 646.5,703.1 647.0,703.3 647.5,703.5 648.0,703.7 648.5,703.9 649.0,704.1 649.5,704.3 650.0,704.4 650.5,704.6 651.0,704.8 651.5,705.0 652.0,705.2 652.5,705.4 653.0,705.6 653.5,705.8 654.0,706.0 654.5,706.2 655.0,706.4 655.5,706.5 656.0,706.7 656.5,706.9 657.0,707.1 657.5,707.3 658.0,707.5 658.5,707.7 659.0,707.9 659.5,708.1 660.0,708.3 660.5,708.5 661.0,708.7 661.5,708.8 662.0,709.0 662.5,709.2 663.0,709.4 663.5,709.6 664.0,709.8 664.5,710.0 665.0,710.2 665.5,710.4 666.0,710.6 666.5,710.8 667.0,711.0 667.5,711.1 668.0,711.3 668.5,711.5 669.0,711.7 669.5,711.9 670.0,712.1 670.5,712.3 671.0,712.5 671.5,712.7 672.0,712.9 672.5,713.1 673.0,713.2 673.5,713.4 674.0,713.6 674.5,713.8 675.0,714.0 675.5,714.2 676.0,714.4 676.5,714.6 677.0,714.8 677.5,715.0 678.0,715.2 678.5,715.4 679.0,715.5 679.5,715.7 680.0,715.9 680.5,716.1 681.0,716.3 681.5,716.5 682.0,716.7 682.5,716.9 683.0,717.1 683.5,717.3 684.0,717.5 684.5,717.6 685.0,717.8 685.5,718.0 686.0,718.2 686.5,718.4 687.0,718.6 687.5,718.8 688.0,719.0 688.5,719.2 689.0,719.4 689.5,719.6 690.0,719.8 690.5,719.9 691.0,720.1 691.5,720.3 692.0,720.5 692.5,720.7 693.0,720.9 693.5,721.1 694.0,721.3 694.5,721.5 695.0,721.7 695.5,721.9 696.0,722.0 696.5,722.2 697.0,722.4 697.5,722.6 698.0,722.8 698.5,723.0 699.0,723.2 699.5,723.4 700.0,723.6 700.5,723.8 701.0,724.0 701.5,724.2 702.0,724.3 702.5,724.5 703.0,724.7 703.5,724.9 704.0,725.1 704.5,725.3 704.5,806.5 88.3,806.5" fill="url(#minfill)"/>
<rect x="88" y="731.0" width="616.5" height="1" fill="#5e7fa0" opacity="0.25"/>
<rect x="88" y="766.3" width="616.5" height="1" fill="#5e7fa0" opacity="0.25"/>
<polyline points="88.3,806.5 162.1,775.7 233.4,765.9 285.3,733 328.9,749.5 357,729.6 395.3,697.4 520.5,774.5 637.6,699.7 704.5,725.3" fill="none" stroke="#2065b3" stroke-width="2.2" stroke-linejoin="round"/>
<polyline points="88,778.6 157.8,733.7 250,777.5 329,749.5 398.2,758 438.8,769 550.5,717 636,677.5 704.5,696" fill="none" stroke="#49a84e" stroke-width="3.2" stroke-linejoin="round" stroke-linecap="round"/>
<polyline points="329,749.5 398.2,758" fill="none" stroke="#2a72c0" stroke-width="3.4" stroke-linecap="round"/>
<rect x="87.5" y="649" width="1.8" height="168" fill="#1c4778"/>
<path d="M84.6 651 L88.4 647 L92.2 651" fill="none" stroke="#1c4778" stroke-width="1.5"/>
<rect x="88" y="805.8" width="643" height="2" fill="#173f72"/>
<rect x="87" y="821.7" width="657.5" height="1.8" fill="#1c4a80"/>
<circle cx="88" cy="778.6" r="5" fill="#57b262"/>
<circle cx="157.8" cy="733.7" r="5.6" fill="#57b262"/>
<circle cx="250.2" cy="777.5" r="5" fill="#57b262"/>
<circle cx="550.5" cy="717" r="11.2" fill="#57b262"/>
<circle cx="636" cy="677.5" r="6" fill="#57b262"/>
<circle cx="566.2" cy="711" r="2.6" fill="#57b262"/>
<circle cx="162.1" cy="775.7" r="6.3" fill="#2d78c4"/>
<circle cx="285.3" cy="733" r="5.8" fill="#2d78c4"/>
<circle cx="395.3" cy="697.4" r="4.8" fill="#2d78c4"/>
<circle cx="398.2" cy="758" r="6.6" fill="#2d78c4"/>
<circle cx="520.5" cy="774.5" r="5.6" fill="#2d78c4"/>
<circle cx="637.6" cy="699.7" r="5.6" fill="#2d78c4"/>
<circle cx="703.6" cy="725.3" r="5.8" fill="#2d78c4"/>
<circle cx="233.4" cy="765.9" r="2.6" fill="#4b9be6"/>
<rect x="326.5" y="746.5" width="5" height="6" fill="#e9f3fb" rx="1"/>
<circle cx="438.8" cy="769" r="2" fill="#bfe0f6"/>
<path d="M703.5 692.5 q4 3.5 0 8z" fill="#3fa54a"/>
<rect x="0" y="978" width="766.5" height="46" fill="#dfe1e7" />
<rect x="0" y="977.2" width="764" height="2.4" fill="#c8ccd4" />
<rect x="0" y="993.75" width="765" height="1.5" fill="#cdd1d9"/>
<rect x="0" y="995.3" width="766.5" height="28.7" fill="#dcdfe5" />
<rect x="763.8" y="150" width="2.7" height="874" fill="#e2e5eb" />
<rect x="763.6" y="186" width="1.2" height="792" fill="#cfd3da"/>
<rect x="772" y="96" width="730" height="896" fill="#0b1c44" opacity="0.25" filter="url(#sh)"/>
<path d="M770.5 88 H1501.5 a4 4 0 0 1 4 4 V991.3 H766.5 V92 a4 4 0 0 1 4 -4Z" fill="url(#win)"/>
<path d="M770.5 88 H1501.5 a4 4 0 0 1 4 4 V991.3 H766.5 V92 a4 4 0 0 1 4 -4Z" fill="url(#winV)"/>
<defs><linearGradient id="tb" x1="0" y1="0" x2="1" y2="0"><stop offset="0" stop-color="#19284f"/><stop offset="1" stop-color="#1f2e57"/></linearGradient><linearGradient id="band" x1="0" y1="0" x2="0" y2="1"><stop offset="0" stop-color="#20457d" stop-opacity="0.5"/><stop offset="1" stop-color="#20457d" stop-opacity="0"/></linearGradient></defs>
<path d="M770.5 88 H1501.5 a4 4 0 0 1 4 4 V148.3 H766.5 V92 a4 4 0 0 1 4 -4Z" fill="url(#tb)"/>
<rect x="766.5" y="148.3" width="739" height="22" fill="url(#band)"/>
<g fill="#6599f0"><circle cx="809.3" cy="113.8" r="3.95"/><circle cx="820.3" cy="113.6" r="3.95"/><path d="M802.3 127.6 Q802.2 119 809.3 119 Q812.4 119 814.2 120.9 Q816.4 118.4 820.4 118.4 Q828.2 118.4 828.1 127.6 Z"/></g>
<text x="867" y="127.8" font-size="22.3" font-weight="normal" fill="#e8ecf6" textLength="190" lengthAdjust="spacingAndGlyphs" stroke="#e8ecf6" stroke-width="0.3">Finance Dashboard</text>
<circle cx="1372.1" cy="118.8" r="14.8" fill="#142149" opacity="0.75"/><circle cx="1372.1" cy="118.8" r="10.8" fill="#b3b8c9"/>
<g fill="#e8ebf5"><path d="M1409.3 115 H1428.2 V128.5 H1409.3 Z"/></g><path d="M1409.6 112.8 Q1414 112.6 1418 110.8 Q1417.6 112.4 1420.4 112 Q1424.6 111.4 1428 110.2" stroke="#dfe3ef" stroke-width="1.7" fill="none"/>
<circle cx="1465.5" cy="118.8" r="10.8" fill="#bfc3d0"/><path d="M1459 112.2 L1472.2 125.4 M1472.2 112.2 L1459 125.4" stroke="#e2e5ed" stroke-width="1.5" stroke-linecap="round"/>
<defs><linearGradient id="sb" x1="0" y1="0" x2="1" y2="0"><stop offset="0" stop-color="#0c1a3c"/><stop offset="0.5" stop-color="#0d1d40"/><stop offset="1" stop-color="#13284d"/></linearGradient></defs>
<rect x="780.5" y="159" width="711.0" height="30" fill="url(#sb)" rx="5" />
<rect x="793.5" y="219" width="161.5" height="82" rx="8" fill="#0a1838" opacity="0.45" filter="url(#sh)"/>
<rect x="791.5" y="213.5" width="163.5" height="82.1" fill="url(#c1)" rx="7" />
<text x="811.8" y="242.2" font-size="15.6" font-weight="normal" fill="#bccbe8" textLength="92.7" lengthAdjust="spacingAndGlyphs">Total Balance</text>
<text x="813.2" y="277.2" font-size="32.8" font-weight="bold" fill="#ffffff" textLength="120.1" lengthAdjust="spacingAndGlyphs">$42,350</text>
<rect x="968" y="219" width="155.5" height="82" rx="8" fill="#0a1838" opacity="0.45" filter="url(#sh)"/>
<rect x="966" y="213.5" width="157.5" height="82.1" fill="url(#c2)" rx="7" />
<text x="981.2" y="242.2" font-size="15.6" font-weight="normal" fill="#c3cde8" textLength="60.1" lengthAdjust="spacingAndGlyphs">Monthly I</text>
<text x="982.7" y="277.2" font-size="32.8" font-weight="bold" fill="#ffffff" textLength="117.3" lengthAdjust="spacingAndGlyphs">$15,200</text>
<rect x="1137.2" y="219" width="156.79999999999995" height="82" rx="8" fill="#0a1838" opacity="0.45" filter="url(#sh)"/>
<rect x="1135.2" y="213.5" width="158.8" height="82.1" fill="url(#c3)" rx="7" />
<text x="1150" y="242.2" font-size="15.6" font-weight="normal" fill="#bdd3f0" textLength="119.7" lengthAdjust="spacingAndGlyphs">Monthls Expenses</text>
<text x="1150.7" y="277.2" font-size="32.8" font-weight="bold" fill="#ffffff" textLength="102.7" lengthAdjust="spacingAndGlyphs">$9,800</text>
<rect x="1308.2" y="219" width="167.79999999999995" height="82" rx="8" fill="#0a1838" opacity="0.45" filter="url(#sh)"/>
<rect x="1306.2" y="213.5" width="169.8" height="82.1" fill="url(#c4)" rx="7" />
<text x="1326.8" y="242.2" font-size="15.6" font-weight="normal" fill="#a6dccb" textLength="63.5" lengthAdjust="spacingAndGlyphs">Net Profit</text>
<text x="1327.7" y="277.2" font-size="32.8" font-weight="bold" fill="#ffffff" textLength="102.9" lengthAdjust="spacingAndGlyphs">$5,400</text>
<text x="1042.2" y="242.2" font-size="11.6" font-weight="normal" fill="#c3cde8" textLength="21.4" lengthAdjust="spacingAndGlyphs">nec:</text>
<rect x="791" y="330" width="692" height="299" rx="9" fill="#081633" opacity="0.5" filter="url(#sh)"/>
<rect x="789.4" y="326.6" width="693.3" height="297.9" fill="#f9f9fa" rx="8" />
<rect x="1196" y="330" width="14" height="292" fill="#8f98ad" opacity="0.22" filter="url(#sh2)"/>
<path d="M797.4 326.6 H1199.5 a8 8 0 0 1 8 8 V616.5 a8 8 0 0 1 -8 8 H797.4 a8 8 0 0 1 -8 -8 V334.6 a8 8 0 0 1 8 -8Z" fill="#f7f8fa"/>
<text x="816.1" y="374.2" font-size="24" font-weight="bold" fill="#0f2350" textLength="115.9" lengthAdjust="spacingAndGlyphs">Cash Flow</text>
<text x="1077.5" y="374.6" font-size="15.8" font-weight="normal" fill="#1b2a52" textLength="102.1" lengthAdjust="spacingAndGlyphs" stroke="#1b2a52" stroke-width="0.2">Last 6 Months</text>
<rect x="810.3" y="393.9" width="368.4" height="1.6" fill="#c6cddc"/>
<rect x="815.7" y="435.25" width="363.0" height="1.5" fill="#d3d7e2"/>
<rect x="815.7" y="475.95" width="363.0" height="1.5" fill="#d3d7e2"/>
<rect x="815.7" y="517.95" width="363.0" height="1.5" fill="#d3d7e2"/>
<rect x="815.7" y="557.95" width="363.0" height="1.5" fill="#e4e7ee"/>
<polygon points="819.6,519.6 895.6,489.8 939.6,513.4 985,495.2 1033.3,471 1090.4,493.7 1136,474 1177.2,448 1177.2,573 819.6,573" fill="#a8d0f4" opacity="0.96"/>
<polyline points="819.6,519.6 895.6,489.8 939.6,513.4 985,495.2 1033.3,471 1090.4,493.7 1136,474 1177.2,448" fill="none" stroke="#3f82e2" stroke-width="1.3"/>
<rect x="819.6" y="518.2" width="357.6" height="1" fill="#8fb5dc"/>
<rect x="819.6" y="558.2" width="357.6" height="1" fill="#a3c8ec"/>
<rect x="819.6" y="541.1" width="19.0" height="31.9" fill="url(#bar)" />
<rect x="852.3" y="523.9" width="22.8" height="49.1" fill="url(#bar)" />
<rect x="888" y="542.1" width="22.9" height="30.9" fill="url(#bar)" />
<rect x="924.5" y="535.3" width="22.9" height="37.7" fill="url(#bar)" />
<rect x="961" y="523.6" width="22.9" height="49.4" fill="url(#bar)" />
<rect x="996.6" y="505.8" width="22.3" height="67.2" fill="url(#bar)" />
<rect x="1032.2" y="522.6" width="23.5" height="50.4" fill="url(#bar)" />
<rect x="1069.2" y="527.5" width="23.0" height="45.5" fill="url(#bar)" />
<rect x="1142.4" y="490.4" width="23.4" height="82.6" fill="url(#bar)" />
<path d="M1106.1 516.3 Q1118 513 1128.7 508.7 V573 H1106.1Z" fill="url(#bar)"/>
<rect x="815" y="572.1" width="369.3" height="2.2" fill="#1752c2"/>
<polyline points="819.6,504.6 891.3,470.8 939.2,486.4 1002.3,460.6 1048,433.8 1091.7,450.6 1155.9,425.2 1177.5,416.8" fill="none" stroke="#3b9a2f" stroke-width="3.2" stroke-linejoin="miter"/>
<ellipse cx="1002.3" cy="460.6" rx="3.6" ry="4.2" fill="#f3f5f8" stroke="#1d2a3a" stroke-width="1.6" transform="rotate(-30 1002.3 460.6)"/>
<ellipse cx="1155.9" cy="425.2" rx="3.6" ry="4.2" fill="#f3f5f8" stroke="#1d2a3a" stroke-width="1.6" transform="rotate(-30 1155.9 425.2)"/>
<clipPath id="cpA"><rect x="819.6" y="500" width="30" height="40"/></clipPath><circle cx="822.6" cy="519.8" r="5.6" fill="#2e6fe6" clip-path="url(#cpA)"/>
<circle cx="939.6" cy="513.4" r="5.5" fill="#2e6fe6"/>
<circle cx="1090.4" cy="493.7" r="5.5" fill="#2e6fe6"/>
<rect x="818.4" y="587.4" width="359.1" height="1.4" fill="#dde1e9"/>
<rect x="854" y="593.8" width="22" height="10.6" fill="#3aa03a" />
<text x="887.8" y="604.6" font-size="15.2" font-weight="normal" fill="#1b2a52" textLength="48.2" lengthAdjust="spacingAndGlyphs" stroke="#1b2a52" stroke-width="0.2">Income</text>
<rect x="1019.3" y="593.8" width="21.9" height="10.8" fill="#1161d6" />
<text x="1055.6" y="604.6" font-size="15.2" font-weight="normal" fill="#1b2a52" textLength="62.7" lengthAdjust="spacingAndGlyphs" stroke="#1b2a52" stroke-width="0.2">Expenses</text>
<text x="1235.7" y="374" font-size="20.5" font-weight="normal" fill="#13224d" textLength="179.7" lengthAdjust="spacingAndGlyphs" stroke="#13224d" stroke-width="0.35">Expense Breakdown</text>
<rect x="1427" y="365.2" width="31.4" height="2.2" fill="#c9cfdc"/>
<defs><linearGradient id="dkb" x1="0" y1="0" x2="1" y2="1"><stop offset="0" stop-color="#0d4797"/><stop offset="1" stop-color="#083783"/></linearGradient><linearGradient id="grn2" x1="0" y1="0" x2="1" y2="1"><stop offset="0" stop-color="#399a58"/><stop offset="1" stop-color="#4da663"/></linearGradient></defs>
<path d="M1339.0 494.0 L1335.8 396.8 A101.5 98.8 0 0 1 1441.7 495.5Z" fill="#4588d1"/>
<path d="M1339.0 494.0 L1441.7 495.5 A101.5 98.8 0 0 1 1358.7 592.6Z" fill="url(#dkb)"/>
<path d="M1339.0 494.0 L1358.7 592.6 A101.5 98.8 0 0 1 1261.3 557.7Z" fill="url(#grn2)"/>
<path d="M1339.0 494.0 L1261.3 557.7 A101.5 98.8 0 0 1 1246.4 457.7Z" fill="#218a5c"/>
<path d="M1339.0 494.0 L1246.4 457.7 A101.5 98.8 0 0 1 1335.8 396.8Z" fill="#5cb860"/>
<ellipse cx="1338.8" cy="493.7" rx="34.2" ry="33.3" fill="#fbfbfc"/>
<text x="1282.9" y="446.3" font-size="19.3" font-weight="normal" fill="#ffffff" textLength="39.3" lengthAdjust="spacingAndGlyphs" stroke="#ffffff" stroke-width="0.25">35%</text>
<text x="1375.2" y="461.8" font-size="19.3" font-weight="normal" fill="#ffffff" textLength="39.6" lengthAdjust="spacingAndGlyphs" stroke="#ffffff" stroke-width="0.25">25%</text>
<text x="1375.2" y="544.5" font-size="19.3" font-weight="normal" fill="#ffffff" textLength="39.0" lengthAdjust="spacingAndGlyphs" stroke="#ffffff" stroke-width="0.25">20%</text>
<text x="1293.8" y="562.3" font-size="19.3" font-weight="normal" fill="#ffffff" textLength="38.6" lengthAdjust="spacingAndGlyphs" stroke="#ffffff" stroke-width="0.25">20%</text>
<text x="1254.2" y="507.3" font-size="19.3" font-weight="normal" fill="#ffffff" textLength="39.0" lengthAdjust="spacingAndGlyphs" stroke="#ffffff" stroke-width="0.25">20%</text>
<rect x="791" y="643" width="692" height="328" rx="9" fill="#081633" opacity="0.5" filter="url(#sh)"/>
<rect x="789.4" y="638.8" width="693.3" height="328.2" fill="url(#cardR)" rx="8" />
<rect x="1208.1" y="646" width="1.2" height="314" fill="#bcc5d4"/>
<path d="M797.4 638.8 H1199.8 a8 8 0 0 1 8 8 V959 a8 8 0 0 1 -8 8 H797.4 a8 8 0 0 1 -8 -8 V646.8 a8 8 0 0 1 8 -8Z" fill="url(#cardR)"/>
<path d="M1209.6 649 a8 8 0 0 1 8 -8" fill="none"/>
<path d="M1199.6 638.6 a8.2 8.2 0 0 1 8.2 8.2 h1.8 a8.2 8.2 0 0 1 8.2 -8.2z" fill="#1b3567"/>
<path d="M1199.6 967.2 a8.2 8.2 0 0 0 8.2 -8.2 h1.8 a8.2 8.2 0 0 0 8.2 8.2z" fill="#162b55"/>
<text x="816.1" y="682.3" font-size="20.8" font-weight="bold" fill="#14285a" textLength="196.3" lengthAdjust="spacingAndGlyphs">Expense Breakdown</text>
<rect x="807" y="677.8" width="3" height="2.0" fill="#3f53a3" rx="1" />
<text x="1150.5" y="682.3" font-size="20.6" font-weight="bold" fill="#c6cad7" textLength="28.7" lengthAdjust="spacingAndGlyphs">AA</text>
<rect x="810" y="701.5" width="376.6" height="1.6" fill="#c4ccdb"/>
<rect x="815" y="765.9" width="371.6" height="1.6" fill="#cdd3df"/>
<rect x="815" y="827.9" width="371.6" height="1.6" fill="#cdd3df"/>
<rect x="815" y="890.6" width="371.6" height="1.6" fill="#cdd3df"/>
<rect x="815" y="952.9" width="371.6" height="1.6" fill="#cdd3df"/>
<circle cx="839.8" cy="736.4" r="18.2" fill="url(#ig)"/>
<text x="869.8" y="742.9" font-size="21.2" font-weight="normal" fill="#101c42" textLength="70.7" lengthAdjust="spacingAndGlyphs" stroke="#101c42" stroke-width="0.3">Salaries</text>
<text x="1099.1" y="743.3" font-size="22.6" font-weight="bold" fill="#0f1c44" textLength="46.9" lengthAdjust="spacingAndGlyphs">35%</text>
<circle cx="839.8" cy="800" r="18.2" fill="url(#ib)"/>
<text x="870.2" y="806.2" font-size="21.2" font-weight="normal" fill="#101c42" textLength="41.1" lengthAdjust="spacingAndGlyphs" stroke="#101c42" stroke-width="0.3">Rent</text>
<text x="1099.1" y="806.6" font-size="22.6" font-weight="bold" fill="#0f1c44" textLength="46.9" lengthAdjust="spacingAndGlyphs">25%</text>
<circle cx="839.8" cy="862" r="18.2" fill="url(#ig2)"/>
<text x="869.8" y="868.4" font-size="21.2" font-weight="normal" fill="#101c42" textLength="91.8" lengthAdjust="spacingAndGlyphs" stroke="#101c42" stroke-width="0.3">Marketing</text>
<text x="1099.1" y="868.8" font-size="22.6" font-weight="bold" fill="#0f1c44" textLength="46.9" lengthAdjust="spacingAndGlyphs">20%</text>
<circle cx="839.8" cy="924.6" r="18.2" fill="url(#ib)"/>
<text x="869.5" y="931.3" font-size="21.2" font-weight="normal" fill="#101c42" textLength="52.5" lengthAdjust="spacingAndGlyphs" stroke="#101c42" stroke-width="0.3">Other</text>
<text x="1099.1" y="931.6999999999999" font-size="22.6" font-weight="bold" fill="#0f1c44" textLength="46.9" lengthAdjust="spacingAndGlyphs">20%</text>
<path d="M1161 733.9 q0 -5.4 9 -5.4 q9.2 0 9.2 5.4 q0 3 -9.2 11 q-9 -8 -9 -11z" fill="#a9b0c1"/>
<path d="M1161 797.5 q0 -5.4 9 -5.4 q9.2 0 9.2 5.4 q0 3 -9.2 11 q-9 -8 -9 -11z" fill="#a9b0c1"/>
<path d="M1162.5 858.8 q0 -3.4 7.6 -5.2 q7.8 1.8 7.8 5.2 q0 5 -7.8 11 q-7.6 -6 -7.6 -11z" fill="#a9b0c1"/><path d="M1166.8 861.5 l2.4 2.4 l4 -4.4" stroke="#eef0f5" stroke-width="1.5" fill="none"/>
<path d="M1162.5 921.4 q0 -3.4 7.6 -5.2 q7.8 1.8 7.8 5.2 q0 5 -7.8 11 q-7.6 -6 -7.6 -11z" fill="#a9b0c1"/><path d="M1166.8 924.1 l2.4 2.4 l4 -4.4" stroke="#eef0f5" stroke-width="1.5" fill="none"/>
<g fill="#f7fcf9"><path d="M833.1 745.8000000000001 Q833.8 738.2 839.3 736.2 V745.4z"/><path d="M846.9 745.8000000000001 Q846.2 738.2 840.7 736.2 V745.4z"/></g><path d="M835.9 729.7 L840.5 737.4 M844.8 729.1 L839.5 737.4 M840.4 729.6 L840.1 732.2" stroke="#f7fcf9" stroke-width="1.7" stroke-linecap="round" fill="none"/>
<g fill="#f6fbfe"><path d="M832.2 933.1999999999999 L836.8 924.0 L837.5 932.8z M847.8 933.1999999999999 L843.2 924.0 L842.5 932.8z M838.2 932.8 L837.8 924.1999999999999 L840 922.4 L842.2 924.1999999999999 L841.8 932.8z"/></g><path d="M835.4 917.5999999999999 L839.2 924.5999999999999 M844.4 917.1999999999999 L841 924.5999999999999 M839.4 918.1999999999999 L840 922.1999999999999" stroke="#f6fbfe" stroke-width="1.5" stroke-linecap="round" fill="none"/>
<g fill="#f4f8fd"><path d="M831.6 794.2 H850.4 V798.6 H841 l-0.6 1.2 l-0.8 -1.2 q-4 1.6 -9.8 1.6 V796 q0 -1.8 1.8 -1.8z"/><path d="M830.8 801.8 h7.4 l1.8 1.8 l1.8 -1.8 h6.8 v5.8 h-17.8z"/></g>
<g fill="#f5faf3"><path d="M832.2 856.4 H838 q1.2 0 1.2 1.2 V869.4 H829.4 q0.4 -2.2 2 -3.6 V858 q0 -1.6 0.8 -1.6z"/><path d="M847.6 856.4 H842.2 q-1.2 0 -1.2 1.2 V869.4 H850.4 q-0.4 -2.2 -2 -3.6 V858 q0 -1.6 -0.8 -1.6z"/></g>
<path d="M830.6 863.4 q3.6 -3 7.4 1 M849.2 863.4 q-3.6 -3 -7.4 1" stroke="#41a342" stroke-width="1.9" fill="none" stroke-linecap="round"/>
<text x="1236.4" y="682.3" font-size="20.8" font-weight="normal" fill="#1a396b" textLength="140.6" lengthAdjust="spacingAndGlyphs" stroke="#1a396b" stroke-width="0.85">Upcoming Bills</text>
<rect x="1410.4" y="673.4" width="48.6" height="4.2" rx="2.1" fill="#bac1d1"/>
<rect x="1209.6" y="701.5" width="252.4" height="1.6" fill="#c4ccdb"/>
<rect x="1236.8" y="778.2" width="224.2" height="1.6" fill="#cfd5e0"/>
<rect x="1236.8" y="848.2" width="224.2" height="1.6" fill="#cfd5e0"/>
<rect x="1236.8" y="917.5" width="245.6" height="1.6" fill="#d3d8e2"/>
<text x="1240.1" y="741.7" font-size="19.6" font-weight="normal" fill="#101e42" textLength="98.8" lengthAdjust="spacingAndGlyphs" stroke="#101e42" stroke-width="0.4">Office Rent</text>
<text x="1395.2" y="741.7" font-size="19.6" font-weight="normal" fill="#101e42" textLength="63.1" lengthAdjust="spacingAndGlyphs" stroke="#101e42" stroke-width="0.4">$2,500</text>
<text x="1241.9" y="764.4" font-size="15.4" font-weight="normal" fill="#2b3f6b" textLength="73.8" lengthAdjust="spacingAndGlyphs" stroke="#2b3f6b" stroke-width="0.15">Due May 5</text>
<text x="1240.1" y="810.9" font-size="19.6" font-weight="normal" fill="#101e42" textLength="69.7" lengthAdjust="spacingAndGlyphs" stroke="#101e42" stroke-width="0.4">Utilities</text>
<text x="1410.4" y="810.9" font-size="19.6" font-weight="normal" fill="#101e42" textLength="47.9" lengthAdjust="spacingAndGlyphs" stroke="#101e42" stroke-width="0.4">$600</text>
<text x="1241.9" y="833.8" font-size="15.4" font-weight="normal" fill="#2b3f6b" textLength="82.1" lengthAdjust="spacingAndGlyphs" stroke="#2b3f6b" stroke-width="0.15">Due May 10</text>
<text x="1240.3" y="881.2" font-size="19.6" font-weight="normal" fill="#101e42" textLength="78.7" lengthAdjust="spacingAndGlyphs" stroke="#101e42" stroke-width="0.4">Software</text>
<text x="1410.4" y="881.2" font-size="19.6" font-weight="normal" fill="#101e42" textLength="47.9" lengthAdjust="spacingAndGlyphs" stroke="#101e42" stroke-width="0.4">$300</text>
<text x="1241.9" y="903.7" font-size="15.4" font-weight="normal" fill="#2b3f6b" textLength="81.0" lengthAdjust="spacingAndGlyphs" stroke="#2b3f6b" stroke-width="0.15">Due May 12</text>
<rect x="1359.4" y="925.6" width="104.1" height="33.8" fill="#f2f4f8" rx="3" stroke="#d2d7e1" stroke-width="1.2"/>
<text x="1373.3" y="947" font-size="16.4" font-weight="bold" fill="#14284f" textLength="62.3" lengthAdjust="spacingAndGlyphs">View All</text>
<path d="M1447.3 935.3 L1456.6 944.4 Q1457.8 947.3 1455.4 947.3 L1445 947.3 Q1449.8 942 1447.3 935.3Z" fill="#2a68a8"/>
</svg>
</body></html>
